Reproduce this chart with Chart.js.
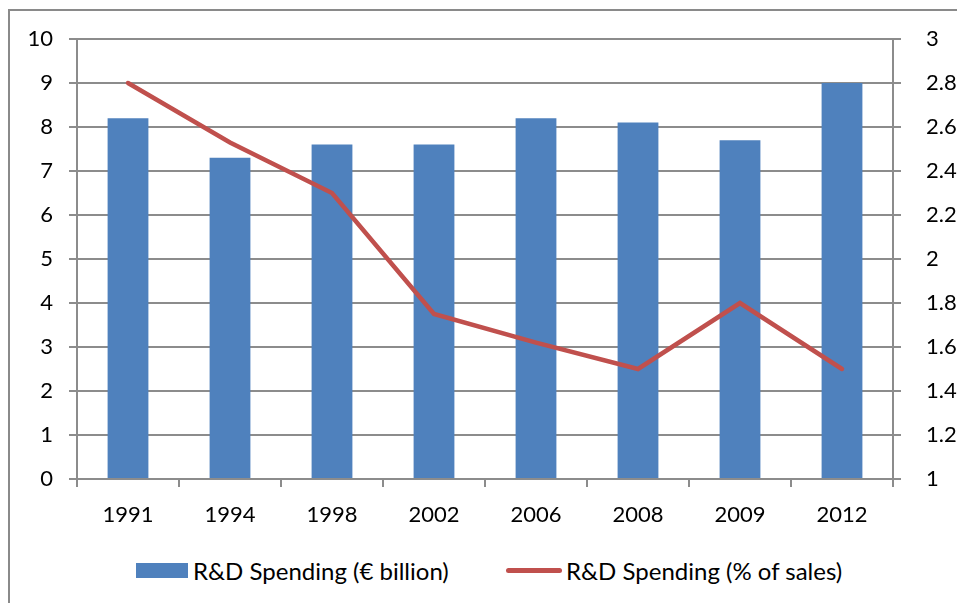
<!DOCTYPE html>
<html>
<head>
<meta charset="utf-8">
<script src="https://cdn.jsdelivr.net/npm/chart.js@4"></script>
<style>
  html, body { margin: 0; padding: 0; background: #fff; overflow: hidden; }
  body { width: 957px; height: 603px; position: relative; font-family: Lato, "Open Sans", sans-serif; }
  #frame { position: absolute; left: 8px; top: 9px; width: 980px; height: 620px; border: 2px solid #8a8a8a; box-sizing: border-box; }
  #wrap { position: absolute; left: 0; top: 0; width: 957px; height: 530px; }
  #legend { position: absolute; top: 555px; left: 0; width: 957px; font-size: 24px; color: #000; }
  #legend .item { position: absolute; top: 0; display: flex; align-items: center; height: 30px; white-space: nowrap; }
  #legend .box { width: 52px; height: 15px; background: #4f81bd; margin-right: 5px; }
  #legend .line { width: 56px; height: 5px; border-radius: 3px; background: #c0504d; margin-right: 4px; }
</style>
</head>
<body>
<div id="frame"></div>
<div id="wrap"><canvas id="chart"></canvas></div>
<div id="legend">
  <div class="item" style="left:136px"><span class="box"></span><span>R&amp;D Spending (€ billion)</span></div>
  <div class="item" style="left:506px"><span class="line"></span><span>R&amp;D Spending (% of sales)</span></div>
</div>
<script>
// R&D spending: absolute (bars, left axis) and share of sales (line, right axis)
const years = ["1991", "1994", "1998", "2002", "2006", "2008", "2009", "2012"];
const spendBillion = [8.2, 7.3, 7.6, 7.6, 8.2, 8.1, 7.7, 9.0];
const spendPctSales = [2.8, 2.53, 2.3, 1.75, 1.62, 1.5, 1.8, 1.5];

const GRID = "#8c8c8c";
const tickFont = { family: "Lato, 'Open Sans', sans-serif", size: 22 };

new Chart(document.getElementById("chart"), {
  data: {
    labels: years,
    datasets: [
      {
        type: "line",
        label: "R&D Spending (% of sales)",
        data: spendPctSales,
        yAxisID: "y1",
        borderColor: "#c0504d",
        borderWidth: 4.5,
        pointRadius: 0,
        tension: 0,
        borderCapStyle: "round",
        order: 1,
      },
      {
        type: "bar",
        label: "R&D Spending (€ billion)",
        data: spendBillion,
        yAxisID: "y",
        backgroundColor: "#4f81bd",
        categoryPercentage: 1,
        barPercentage: 0.4,
        order: 2,
      }
    ]
  },
  options: {
    responsive: true,
    maintainAspectRatio: false,
    animation: false,
    layout: { padding: { top: 39, left: 0, right: 0, bottom: 0 } },
    plugins: { legend: { display: false }, tooltip: { enabled: false } },
    scales: {
      x: {
        offset: true,
        grid: { offset: true, drawOnChartArea: false, color: GRID, tickLength: 8, lineWidth: 2 },
        border: { color: GRID, width: 2 },
        ticks: { color: "#000", font: tickFont, padding: 15, maxRotation: 0 },
        afterFit: s => { s.height = 51; }
      },
      y: {
        position: "left",
        min: 0, max: 10,
        grid: { color: GRID, tickLength: 8, lineWidth: 2 },
        border: { color: GRID, width: 2 },
        ticks: { stepSize: 1, color: "#000", font: tickFont, padding: 16 },
        afterFit: s => { s.width = 77; }
      },
      y1: {
        position: "right",
        min: 1, max: 3,
        grid: { drawOnChartArea: false, color: GRID, tickLength: 8, lineWidth: 2 },
        border: { color: GRID, width: 2 },
        ticks: { stepSize: 0.2, color: "#000", font: tickFont, padding: 25,
                 callback: v => String(Math.round(v * 10) / 10) },
        afterFit: s => { s.width = 64; }
      }
    }
  }
});
</script>
</body>
</html>
